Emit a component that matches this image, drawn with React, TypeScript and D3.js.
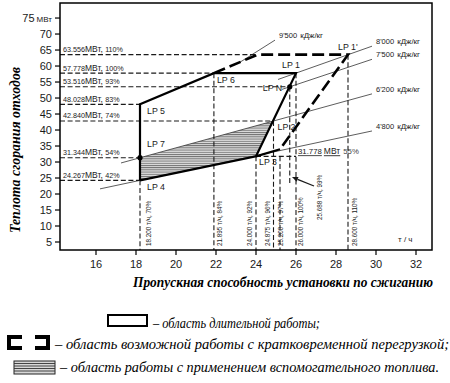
import React from "react";
import * as d3 from "d3";

// ---------- data ----------
const xTicks = [16, 18, 20, 22, 24, 26, 28, 30, 32];
const yTicks = [5, 10, 15, 20, 25, 30, 35, 40, 45, 50, 55, 60, 65, 70, 75];

// operating points: throughput (t/h), heat input (MW)
const pointNames = ["LP 4", "LP 7", "LP 5", "LP 6", "LP 1", "LP 1'", "LP N", "LP 2", "LP 3"];
const pointG = [18.2, 18.2, 18.2, 21.895, 26.0, 28.6, 25.688, 24.875, 24.0];
const pointQ = [24.267, 31.344, 48.028, 57.778, 57.778, 63.556, 53.516, 42.84, 31.778];

// extra corners of overload region
const overloadTopG = 24.08;
const overloadTopQ = 63.556;
const overloadLowG = 25.2;
const overloadLowQ = 34.0;

// horizontal reference lines
const hLineQ = [63.556, 57.778, 53.516, 48.028, 42.84, 31.344, 24.267];
const hLinePct = ["110%", "100%", "93%", "83%", "74%", "54%", "42%"];
const hLineEndG = [24.08, 21.895, 25.688, 18.2, 24.875, 18.2, 18.2];
const extraHQ = 31.778;
const extraHPct = "55%";

// vertical reference lines
const vLineG = [18.2, 21.895, 24.0, 24.875, 25.2, 26.0, 28.6];
const vLinePct = ["70%", "84%", "92%", "96%", "97%", "100%", "110%"];
const vLineTopQ = [24.267, 57.778, 31.778, 42.84, 31.778, 57.778, 63.556];
const nLineG = 25.688;
const nLinePct = "99%";
const nLineBottomQ = 23.4;

// calorific value lines (kJ/kg), endpoints
const hvNames = ["9'500", "8'000", "7'500", "6'200", "4'800"];
const hvStartG = [23.2, 25.1, 25.3, 17.25, 16.2];
const hvStartQ = [61.2, 55.8, 52.7, 29.7, 21.6];
const hvEndG = [24.95, 29.8, 29.8, 29.8, 29.8];
const hvEndQ = [68.1, 66.2, 62.1, 51.3, 39.7];

// arrow from label to LP N line
const arrowFrom = [26.9, 22.5];
const arrowTo = [25.8, 25.3];

// legend
const legendTexts = [
  "– область длительной работы;",
  "– область возможной работы с кратковременной перегрузкой;",
  "– область работы с применением вспомогательного топлива.",
];

// ---------- layout ----------
const W = 450, H = 383;
const L = 60, R = 432, T = 3, B = 250;
const sans = "'Liberation Sans', Arial, sans-serif";
const serif = "'Liberation Serif', 'Times New Roman', serif";
const ink = "#1a1a1a";

const labelDx = [7, 7, 7, 3, -14, -10, -27, 4, 3];
const labelDy = [10, -11, 10, 10, -5, -5, 4, 9, 9];
const vLabelDx = [11, 8, -4, -3.5, 3, 7, 9];
const legendX = [153, 55, 60];
const legendY = [328, 349, 372];
const legendLen = [167, 394, 379];

export default function App() {
  const x = d3.scaleLinear().domain([14.2, 32.8]).range([L, R]);
  const y = d3.scaleLinear().domain([2.5, 79.7]).range([B, T]);
  const line = d3.line<[number, number]>().x((d) => x(d[0])).y((d) => y(d[1]));

  const P = (i: number): [number, number] => [pointG[i], pointQ[i]];
  const [i4, i7, i5, i6, i1, i1p, iN, i2, i3] = [0, 1, 2, 3, 4, 5, 6, 7, 8];

  const solidPath = line([P(i4), P(i5), P(i6), P(i1), P(i3), P(i4)]) || "";
  const lowSeg = line([P(i3), [overloadLowG, overloadLowQ]]) || "";
  const dashedPath =
    line([P(i6), [overloadTopG, overloadTopQ], P(i1p), [overloadLowG, overloadLowQ]]) || "";
  const hatchPath = line([P(i4), P(i7), P(i2), P(i3)]) + "Z";

  const thinDash = "5 2.6";

  return (
    <svg
      width={W}
      height={H}
      style={{ position: "absolute", left: 0, top: 0, background: "#fff" }}
      fontFamily={sans}
    >
      <defs>
        <pattern id="hatch" width="4" height="2.2" patternUnits="userSpaceOnUse">
          <rect width="4" height="2.2" fill="#dedede" />
          <line x1="0" x2="4" y1="0.5" y2="0.5" stroke="#5a5a5a" strokeWidth="0.8" />
        </pattern>
      </defs>

      {/* hatched region */}
      <path d={hatchPath} fill="url(#hatch)" stroke="none" />

      {/* calorific lines */}
      {hvNames.map((n, i) => (
        <g key={n}>
          <line
            x1={x(hvStartG[i])}
            y1={y(hvStartQ[i])}
            x2={x(hvEndG[i])}
            y2={y(hvEndQ[i])}
            stroke="#333"
            strokeWidth={0.8}
          />
          <text x={x(hvEndG[i]) + 4} y={y(hvEndQ[i]) - 2} fontSize={7.5} fill={ink}>
            {n}
            <tspan dx={3} fontSize={8}>кДж/кг</tspan>
          </text>
        </g>
      ))}

      {/* horizontal reference lines */}
      {hLineQ.map((q, i) => (
        <g key={"h" + i}>
          <line
            x1={L}
            x2={x(hLineEndG[i])}
            y1={y(q)}
            y2={y(q)}
            stroke={ink}
            strokeWidth={1.1}
            strokeDasharray={thinDash}
          />
          <text x={L + 3} y={y(q) - 2.5} fontSize={7.2} fill={ink}>
            {q.toFixed(3)}
            <tspan fontSize={8.5}>МВт, </tspan>
            {hLinePct[i]}
          </text>
        </g>
      ))}
      <line
        x1={x(pointG[i3])}
        x2={x(26.0)}
        y1={y(extraHQ)}
        y2={y(extraHQ)}
        stroke={ink}
        strokeWidth={1.1}
        strokeDasharray={thinDash}
      />
      <text x={x(26.0) + 2} y={y(extraHQ) - 2} fontSize={7.8} fill={ink}>
        <tspan textDecoration="underline">{extraHQ.toFixed(3)}</tspan>
        <tspan fontSize={8.5} textDecoration="underline" dx={2}>МВт</tspan>
        <tspan dx={3} fill="#444">{extraHPct}</tspan>
      </text>

      {/* vertical reference lines */}
      {vLineG.map((g, i) => (
        <g key={"v" + i}>
          <line
            x1={x(g)}
            x2={x(g)}
            y1={y(vLineTopQ[i])}
            y2={B}
            stroke={ink}
            strokeWidth={1.1}
            strokeDasharray={thinDash}
          />
          <text
            transform={`translate(${x(g) + vLabelDx[i]},246) rotate(-90)`}
            fontSize={6.3}
            fill={ink}
          >
            {g.toFixed(3) + " т/ч, " + vLinePct[i]}
          </text>
        </g>
      ))}
      <line
        x1={x(nLineG)}
        x2={x(nLineG)}
        y1={y(pointQ[iN])}
        y2={y(nLineBottomQ)}
        stroke={ink}
        strokeWidth={1.1}
        strokeDasharray={thinDash}
      />
      <text transform={`translate(322,220) rotate(-90)`} fontSize={6.3} fill={ink}>
        {nLineG.toFixed(3) + " т/ч, " + nLinePct}
      </text>
      {/* arrow */}
      {(() => {
        const x1 = x(arrowFrom[0]), y1 = y(arrowFrom[1]);
        const x2 = x(arrowTo[0]), y2 = y(arrowTo[1]);
        const a = Math.atan2(y2 - y1, x2 - x1);
        const s = 6, w = 2.6;
        const bx = x2 - s * Math.cos(a), by = y2 - s * Math.sin(a);
        const p1 = [bx + w * Math.sin(a), by - w * Math.cos(a)];
        const p2 = [bx - w * Math.sin(a), by + w * Math.cos(a)];
        return (
          <g>
            <line x1={x1} y1={y1} x2={bx} y2={by} stroke={ink} strokeWidth={1.3} />
            <polygon points={`${x2},${y2} ${p1[0]},${p1[1]} ${p2[0]},${p2[1]}`} fill={ink} />
          </g>
        );
      })()}

      {/* region outlines */}
      <path d={solidPath} fill="none" stroke="#000" strokeWidth={2.2} strokeLinejoin="miter" />
      <path d={lowSeg} fill="none" stroke="#000" strokeWidth={2.2} />
      <path d={dashedPath} fill="none" stroke="#000" strokeWidth={2.6} strokeDasharray="12 5" />

      {/* dots */}
      <circle cx={x(pointG[i7])} cy={y(pointQ[i7])} r={2.6} fill="#000" />
      <circle cx={x(pointG[iN])} cy={y(pointQ[iN])} r={2.6} fill="#000" />

      {/* point labels */}
      {pointNames.map((n, i) => (
        <text
          key={n}
          x={x(pointG[i]) + labelDx[i]}
          y={y(pointQ[i]) + labelDy[i]}
          fontSize={8.8}
          fill={ink}
        >
          {n}
        </text>
      ))}

      {/* frame & axes */}
      <rect x={L} y={T} width={R - L} height={B - T} fill="none" stroke="#000" strokeWidth={1.5} />
      {yTicks.map((t) => (
        <g key={"yt" + t}>
          <line x1={L - 5} x2={L} y1={y(t)} y2={y(t)} stroke="#000" strokeWidth={1.2} />
          <text x={L - 8} y={y(t)} dy="0.36em" textAnchor="end" fontSize={11} fill={ink}>
            {t}
            {t === 75 ? <tspan fontSize={8} dx={2}>МВт</tspan> : null}
          </text>
        </g>
      ))}
      {xTicks.map((t) => (
        <g key={"xt" + t}>
          <line x1={x(t)} x2={x(t)} y1={B} y2={B + 5} stroke="#000" strokeWidth={1.2} />
          <text x={x(t)} y={268} textAnchor="middle" fontSize={11} fill={ink}>
            {t}
          </text>
        </g>
      ))}
      <text x={398} y={242} fontSize={8} fill={ink}>
        т / ч
      </text>

      {/* axis titles */}
      <text
        transform="translate(20,150) rotate(-90)"
        textAnchor="middle"
        fontFamily={serif}
        fontWeight="bold"
        fontStyle="italic"
        fontSize={14}
        textLength={166}
        lengthAdjust="spacingAndGlyphs"
        fill="#000"
      >
        Теплота сгорания отходов
      </text>
      <text
        x={133}
        y={287}
        fontFamily={serif}
        fontWeight="bold"
        fontStyle="italic"
        fontSize={14}
        textLength={300}
        lengthAdjust="spacingAndGlyphs"
        fill="#000"
      >
        Пропускная способность установки по сжиганию
      </text>

      {/* legend */}
      <rect x={108} y={315} width={39} height={11} fill="none" stroke="#000" strokeWidth={2} />
      <path d="M22,337 H9 V348 H22" fill="none" stroke="#000" strokeWidth={4} />
      <path d="M35,337 H48 V348 H35" fill="none" stroke="#000" strokeWidth={4} />
      <rect x={14} y={361} width={41} height={13} fill="#d8d8d8" stroke="#222" strokeWidth={1} />
      {[363.5, 366, 368.5, 371].map((yy) => (
        <line key={yy} x1={14} x2={55} y1={yy} y2={yy} stroke="#333" strokeWidth={0.9} />
      ))}
      {legendTexts.map((t, i) => (
        <text
          key={i}
          x={legendX[i]}
          y={legendY[i]}
          fontFamily={serif}
          fontStyle="italic"
          fontSize={14}
          textLength={legendLen[i]}
          lengthAdjust="spacingAndGlyphs"
          fill="#000"
        >
          {t}
        </text>
      ))}
    </svg>
  );
}
